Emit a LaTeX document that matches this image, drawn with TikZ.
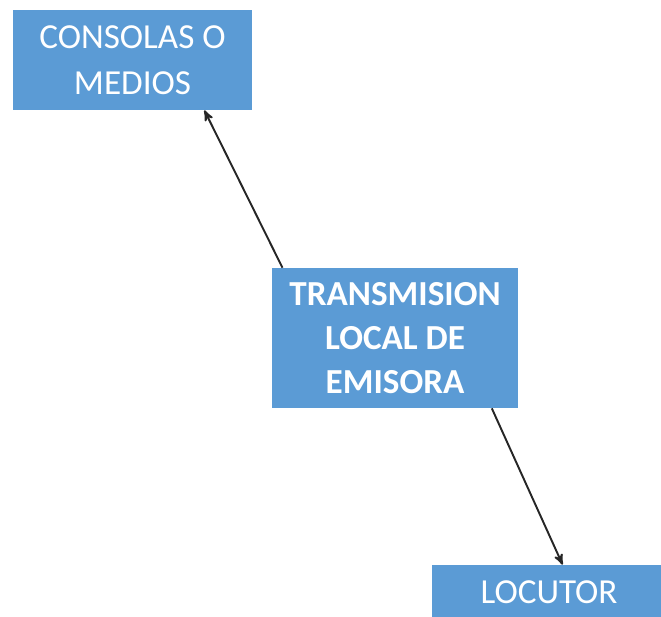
\documentclass[tikz,border=0pt]{standalone}
\usepackage{fontspec}
\setmainfont{Carlito}
\usetikzlibrary{positioning, arrows}
\definecolor{boxblue}{RGB}{91,155,213}
\tikzset{
>=stealth', % small filled heads
box/.style={rectangle, fill=boxblue, text=white, align=center, inner sep=0pt}, % blue boxes
link/.style={->, line width=1.1pt, black!85}, % the connectors
}

\begin{document}
\begin{tikzpicture}[x=0.02cm, y=-0.02cm]
  \useasboundingbox (0,0) rectangle (661,616);

  \node[box, minimum width=4.78cm, minimum height=2cm, font=\fontsize{20}{26.5}\selectfont] (cons) at (132.5,60) {CONSOLAS O\\MEDIOS};
  \node[box, minimum width=4.92cm, minimum height=2.8cm, font=\bfseries\fontsize{20}{25}\selectfont] (trans) at (395,338) {TRANSMISION\\LOCAL DE\\EMISORA};
  \node[box, minimum width=4.68cm, minimum height=1.1cm, font=\fontsize{20}{25}\selectfont] (loc) at (549,592.5) {LOCUTOR};

  \draw[link] (trans.148) -- (cons.-35.7);
  \draw[link] (trans.-36.4) -- (loc.64.7);

\end{tikzpicture}
\end{document}
